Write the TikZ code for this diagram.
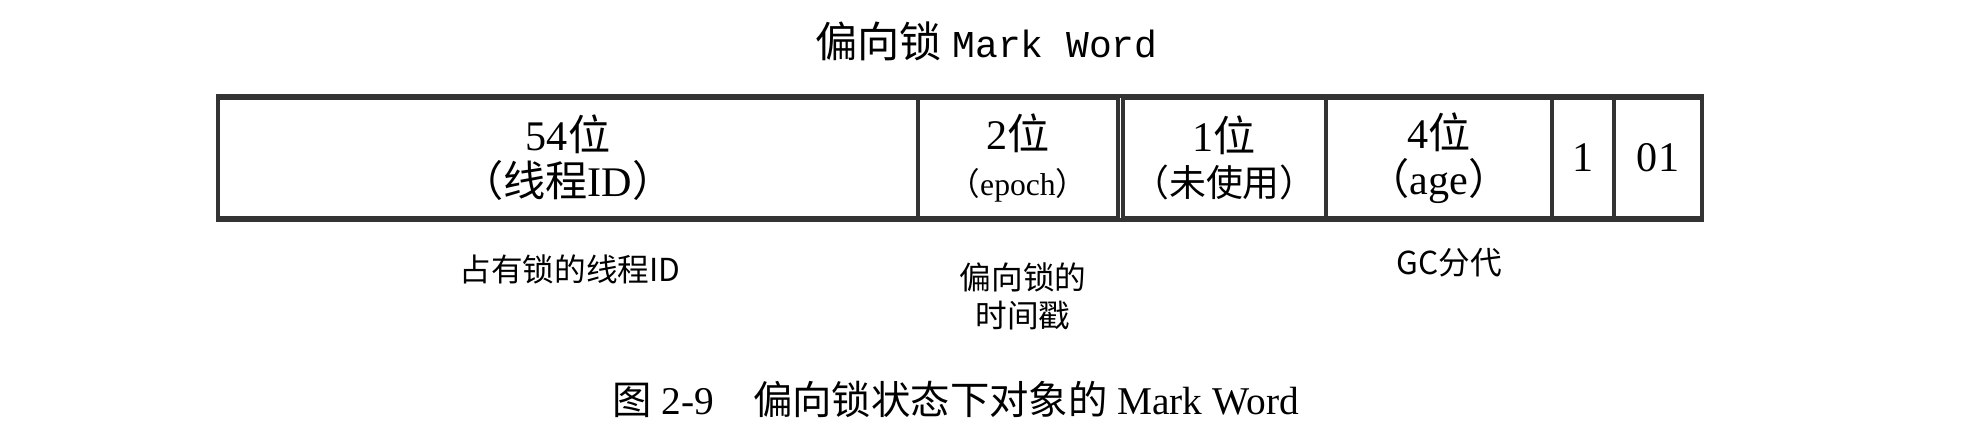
\documentclass[tikz,border=0pt]{standalone}
\usepackage{fontspec}
\setmainfont{Liberation Serif}
\setmonofont{Liberation Mono}
\newfontfamily\cjk{Noto Sans CJK SC}
\usepackage{xcolor}
\usepackage{tikz}
\definecolor{lineGray}{HTML}{333333}

\begin{document}
\begin{tikzpicture}[
  fld/.style={draw=lineGray, line width=1pt, minimum height=1.2cm, inner sep=0pt, align=center, font=\fontsize{12}{13}\selectfont},
  lbl/.style={font=\cjk\fontsize{9}{11}\selectfont, align=center}]
\useasboundingbox (0,0) rectangle (19.86,-4.34);
% heading
\node[font=\fontsize{12}{13}\selectfont] (title) at (9.865,-0.41)
  {{\cjk 偏向锁}\ {\ttfamily\fontsize{10.8}{13}\selectfont Mark Word}};
% the fields of the mark word
\node[fld, minimum width=7cm] (f1) at (5.68,-1.58) {54{\cjk 位}\\{\cjk （线程}ID{\cjk ）}};
\node[fld, minimum width=2cm] (f2) at (10.18,-1.58) {2{\cjk 位}\\{\fontsize{9}{10}\selectfont{\cjk （}epoch{\cjk ）}}};
\node[fld, minimum width=2.03cm] (f3) at (12.245,-1.58) {1{\cjk 位}\\{\cjk\fontsize{10.5}{10}\selectfont （未使用）}};
\node[fld, minimum width=2.26cm] (f4) at (14.39,-1.58) {4{\cjk 位}\\{\cjk （}age{\cjk ）}};
\node[fld, minimum width=0.62cm] (f5) at (15.83,-1.58) {1};
\node[fld, minimum width=0.88cm] (f6) at (16.58,-1.58) {01};
\draw[lineGray, line width=1pt] (f1.north west) -- (f6.north east);
\draw[lineGray, line width=1pt] (f1.south west) -- (f6.south east);
% what the fields hold
\node[lbl] (own) at (5.70,-2.69) {占有锁的线程ID};
\node[lbl] (stamp) at (10.23,-2.965) {偏向锁的\\时间戳};
\node[lbl] (gen) at (14.49,-2.63) {GC分代};
% caption
\node[font=\fontsize{11.2}{13}\selectfont] (cap) at (9.555,-3.99)
  {{\cjk 图}~2-9\quad{\cjk 偏向锁状态下对象的}~Mark Word};
\end{tikzpicture}
\end{document}
